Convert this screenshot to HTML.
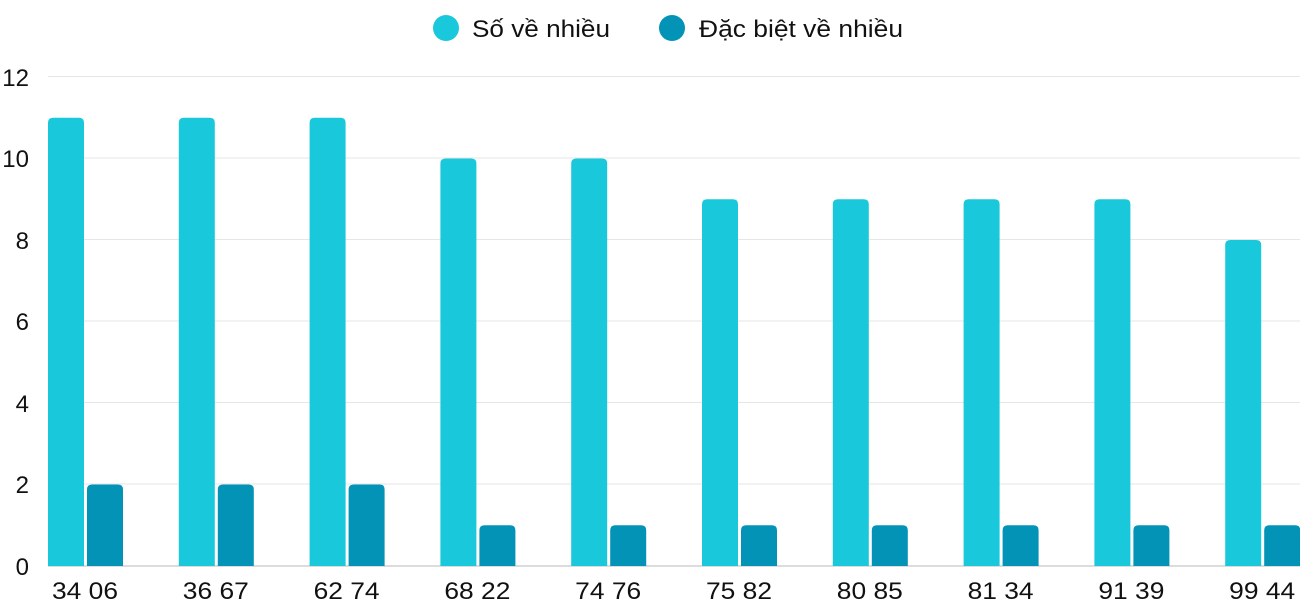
<!DOCTYPE html>
<html><head><meta charset="utf-8"><style>
html,body{margin:0;padding:0;background:#fff;}
svg{display:block;font-family:"Liberation Sans",Arial,sans-serif;}
</style></head><body>
<svg width="1300" height="600" viewBox="0 0 1300 600" xmlns="http://www.w3.org/2000/svg">
<g stroke="#e6e6e6" stroke-width="1">
<line x1="48" x2="1300" y1="76.5" y2="76.5"/>
<line x1="48" x2="1300" y1="158" y2="158"/>
<line x1="48" x2="1300" y1="239.5" y2="239.5"/>
<line x1="48" x2="1300" y1="321" y2="321"/>
<line x1="48" x2="1300" y1="402.5" y2="402.5"/>
<line x1="48" x2="1300" y1="484" y2="484"/>
</g>
<line x1="48" x2="1300" y1="566" y2="566" stroke="#d0d0d0" stroke-width="1.5"/>
<g font-size="24" fill="#111" text-anchor="end">
<text x="29" y="86">12</text>
<text x="29" y="167">10</text>
<text x="29" y="249">8</text>
<text x="29" y="330">6</text>
<text x="29" y="412">4</text>
<text x="29" y="493">2</text>
<text x="29" y="575">0</text>
</g>
<g id="bars"></g>
<g font-size="24" fill="#111" id="labels"></g>
<circle cx="446" cy="28" r="13" fill="#1ac8db"/>
<text x="472" y="37" font-size="24" fill="#111" textLength="138" lengthAdjust="spacingAndGlyphs">Số về nhiều</text>
<circle cx="672" cy="28" r="13" fill="#0393b6"/>
<text x="699" y="37" font-size="24" fill="#111" textLength="204" lengthAdjust="spacingAndGlyphs">Đặc biệt về nhiều</text>
<script>
var d=[["34 06",11,2],["36 67",11,2],["62 74",11,2],["68 22",10,1],["74 76",10,1],["75 82",9,1],["80 85",9,1],["81 34",9,1],["91 39",9,1],["99 44",8,1]];
var ns="http://www.w3.org/2000/svg",b=document.getElementById("bars"),l=document.getElementById("labels");
function bar(x,v,c){var h=v*40.75,y=566-h,r=5;var p=document.createElementNS(ns,"path");
p.setAttribute("d","M"+x+" 566V"+(y+r)+"Q"+x+" "+y+" "+(x+r)+" "+y+"H"+(x+36-r)+"Q"+(x+36)+" "+y+" "+(x+36)+" "+(y+r)+"V566Z");
p.setAttribute("fill",c);b.appendChild(p);}
d.forEach(function(e,i){var x=48+i*130.8;bar(x,e[1],"#1ac8db");bar(x+39,e[2],"#0393b6");
var t=document.createElementNS(ns,"text");t.setAttribute("x",x+4);t.setAttribute("y",599);t.setAttribute("textLength","66");t.setAttribute("lengthAdjust","spacingAndGlyphs");t.textContent=e[0];l.appendChild(t);});
</script>
</svg>
</body></html>
